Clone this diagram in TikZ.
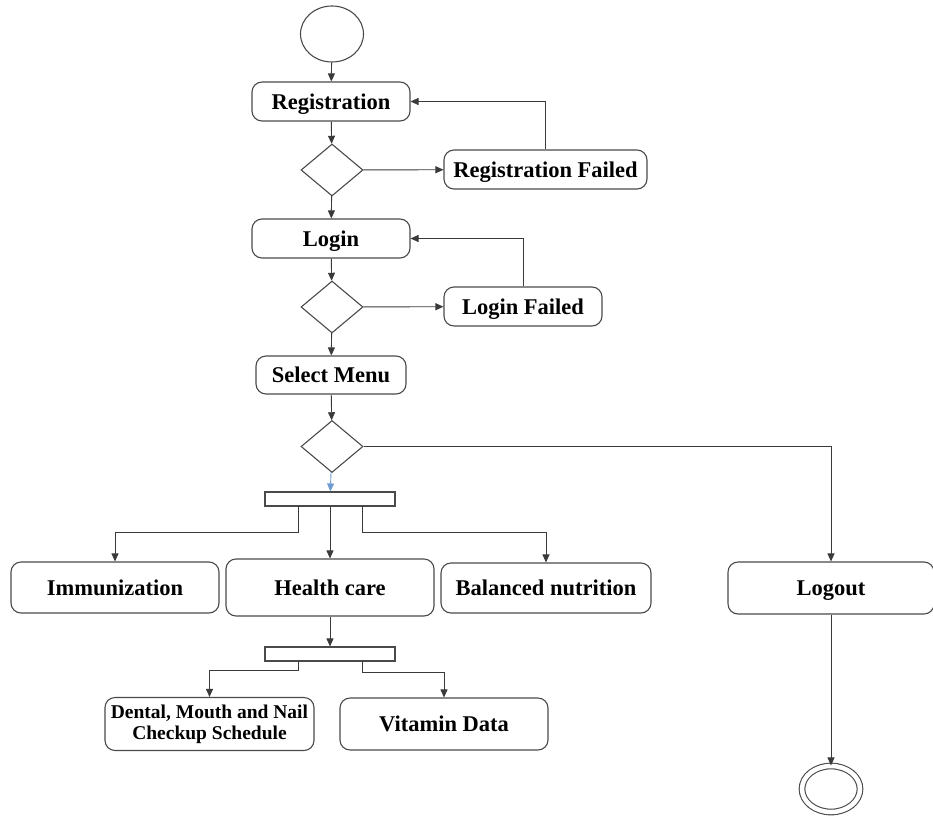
\documentclass[tikz,border=0pt]{standalone}
\usepackage{fontspec}
\setmainfont{Liberation Serif}
\usetikzlibrary{shapes.geometric,arrows.meta}
\definecolor{border}{HTML}{4A4A4A}
\definecolor{wire}{HTML}{3A3A3A}
\definecolor{flowblue}{HTML}{6F9BD1}

\tikzset{
  activity/.style={draw=border, line width=1.1pt, rounded corners=10pt, align=center,
    inner sep=0pt, text height=17pt, text depth=2pt, font=\fontsize{22.5}{25}\selectfont\bfseries},
  decision/.style={draw=border, line width=1.1pt, diamond, inner sep=0pt,
    minimum width=62pt, minimum height=52pt},
  forkbar/.style={draw=border, line width=1.1pt, minimum width=130pt, minimum height=14pt, inner sep=0pt},
  initial/.style={draw=border, line width=1.1pt, ellipse, minimum width=63pt, minimum height=56pt},
  final/.style={draw=border, line width=1.1pt, ellipse, double, double distance=4.5pt,
    minimum width=58pt, minimum height=46pt},
  flow/.style={->, line width=0.9pt, color=wire}
}

\begin{document}
\begin{tikzpicture}[x=1pt, y=-1pt, >={Triangle[length=8pt,width=7pt]}]
  \useasboundingbox (0,0) rectangle (933,816);
  % start and registration loop
  \node[initial] (start) at (332,34) {};
  \node[activity, minimum width=158pt, minimum height=39pt] (reg) at (331,101.5) {Registration};
  \node[decision] (dec1) at (332,170) {};
  \node[activity, minimum width=203pt, minimum height=39pt] (regfail) at (545.5,169.5) {Registration Failed};
  % login loop
  \node[activity, minimum width=158pt, minimum height=39pt] (login) at (331,238.5) {Login};
  \node[decision] (dec2) at (332,307) {};
  \node[activity, minimum width=158pt, minimum height=39pt] (loginfail) at (523,306.5) {Login Failed};
  % menu
  \node[activity, minimum width=150pt, minimum height=38pt] (menu) at (331,375) {Select Menu};
  \node[decision] (dec3) at (332,446.5) {};
  \node[forkbar] (fork1) at (330,499) {};
  \node[activity, minimum width=208pt, minimum height=51pt] (immu) at (115,587.5) {Immunization};
  \node[activity, minimum width=208pt, minimum height=57pt] (health) at (330,587.5) {Health care};
  \node[activity, minimum width=210pt, minimum height=50pt] (balance) at (546,588) {Balanced nutrition};
  \node[activity, minimum width=206pt, minimum height=52pt] (logout) at (831,588) {Logout};
  \node[forkbar] (fork2) at (330,654) {};
  \node[activity, minimum width=209pt, minimum height=53pt, text height=, text depth=,
    font=\fontsize{19.5}{21}\selectfont\bfseries] (dental) at (209.5,724) {Dental, Mouth and Nail\\Checkup Schedule};
  \node[activity, minimum width=208pt, minimum height=52pt] (vitamin) at (444,724) {Vitamin Data};
  \node[final] (stop) at (831,789) {};

  \coordinate (f1l) at (298,506);
  \coordinate (f1r) at (362,506);
  \coordinate (f2l) at (298,661);
  \coordinate (f2r) at (362,661);

  \draw[flow] (start) -- (reg);
  \draw[flow] (reg) -- (dec1);
  \draw[flow] (dec1) -- (regfail);
  \draw[flow] (regfail.north) |- (reg.east);
  \draw[flow] (dec1) -- (login);
  \draw[flow] (login) -- (dec2);
  \draw[flow] (dec2) -- (loginfail);
  \draw[flow] (loginfail.north) |- (login.east);
  \draw[flow] (dec2) -- (menu);
  \draw[flow] (menu) -- (dec3);
  \draw[flow, color=flowblue] (dec3) -- (fork1);
  \draw[flow] (dec3.east) -| (logout.north);
  \draw[flow] (f1l) -- ++(0,26) -| (immu.north);
  \draw[flow] (fork1) -- (health);
  \draw[flow] (f1r) -- ++(0,26) -| (balance.north);
  \draw[flow] (health) -- (fork2);
  \draw[flow] (f2l) -- ++(0,9) -| (dental.north);
  \draw[flow] (f2r) -- ++(0,11) -| (vitamin.north);
  \draw[flow] (logout) -- (stop);
\end{tikzpicture}
\end{document}
